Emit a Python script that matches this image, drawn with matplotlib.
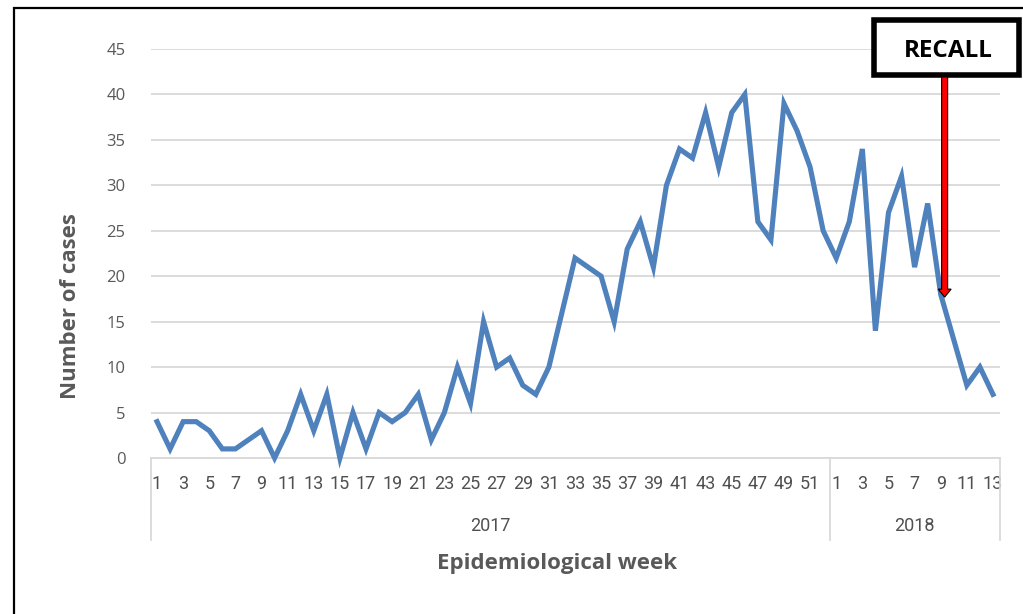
import numpy as np
import matplotlib
matplotlib.use('Agg')
import matplotlib.pyplot as plt
from matplotlib.patches import Rectangle, FancyArrow
from matplotlib.transforms import blended_transform_factory

# weekly cases, 2017 weeks 1-52 then 2018 weeks 1-13
cases_2017 = [4, 1, 4, 4, 3, 1, 1, 2, 3, 0, 3, 7, 3, 7, 0, 5, 1, 5, 4, 5,
              7, 2, 5, 10, 6, 15, 10, 11, 8, 7, 10, 16, 22, 21, 20, 15, 23, 26, 21, 30,
              34, 33, 38, 32, 38, 40, 26, 24, 39, 36, 32, 25]
cases_2018 = [22, 26, 34, 14, 27, 31, 21, 28, 18, 13, 8, 10, 7]
weeks_2017 = list(range(1, 53))
weeks_2018 = list(range(1, 14))
years = ['2017', '2018']
recall_label = 'RECALL'
recall_week_2018 = 9

cases = cases_2017 + cases_2018
weeks = weeks_2017 + weeks_2018
idx = np.arange(len(cases))

gray = '#595959'
grid = '#d9d9d9'
W, H = 1023, 614

fig = plt.figure(figsize=(W / 100, H / 100), dpi=100)
ax = fig.add_axes([150.5 / W, 1 - 458 / H, 849 / W, 409 / H])

ax.plot(idx, cases, color='#4f81bd', lw=3.7, solid_joinstyle='miter', zorder=3, clip_on=False)

ax.set_xlim(-0.5, len(cases) - 0.5)
ax.set_ylim(0, 45)
ax.set_yticks(range(0, 46, 5))
ax.yaxis.grid(True, color=grid, lw=1.3)
ax.set_axisbelow(True)
for s in ['top', 'right', 'left']:
    ax.spines[s].set_visible(False)
ax.spines['bottom'].set_color(grid)
ax.spines['bottom'].set_linewidth(1.3)
ax.tick_params(axis='y', length=0, pad=18, labelsize=12, labelcolor=gray)
ax.set_xticks(idx[::2])
ax.set_xticklabels([str(w) for w in weeks[::2]])
ax.tick_params(axis='x', length=0, pad=12, labelsize=13, labelcolor='#505050')
for lab in ax.get_yticklabels():
    lab.set_family(['Open Sans', 'DejaVu Sans'])
for lab in ax.get_xticklabels():
    lab.set_family(['Liberation Sans Narrow', 'Roboto', 'DejaVu Sans'])

# multi-level category axis (year groups)
trans = blended_transform_factory(ax.transData, ax.transAxes)
n17 = len(cases_2017)
bounds = [-0.5, n17 - 0.5, len(cases) - 0.5]
for b in bounds:
    ax.plot([b, b], [0, -82 / 409], color=grid, lw=1.3, transform=trans, clip_on=False)
for i, yr in enumerate(years):
    ax.text((bounds[i] + bounds[i + 1]) / 2, -68 / 409, yr, transform=trans,
            ha='center', va='center', fontsize=13, color='#505050',
            family=['Liberation Sans Narrow', 'Roboto', 'DejaVu Sans'])

ax.text(0.479, -106 / 409, 'Epidemiological week', transform=ax.transAxes,
        ha='center', va='center', fontsize=16, fontweight='bold', color=gray,
        family=['Open Sans', 'DejaVu Sans'])
fig.text(70 / W, 1 - 306 / H, 'Number of cases', rotation=90, ha='center', va='center',
         fontsize=16, fontweight='bold', color=gray, family=['Open Sans', 'DejaVu Sans'])

# outer frame
fig.patches.append(Rectangle((14 / W, -0.1), 1.2, 1 - 8 / H + 0.1, transform=fig.transFigure,
                             fill=False, ec='black', lw=1.6, zorder=0))

# RECALL box + arrow
fig.patches.append(Rectangle((874 / W, 1 - 75 / H), 145 / W, 55 / H, transform=fig.transFigure,
                             fc='white', ec='black', lw=4, zorder=5))
fig.text(948 / W, 1 - 51 / H, recall_label, ha='center', va='center', fontsize=17.5,
         fontweight='bold', color='black', family=['Open Sans', 'DejaVu Sans'], zorder=6)

tip_x = n17 + recall_week_2018 - 1 + 0.3
tip_px = ax.transData.transform((tip_x, 17.7))
start_px = np.array([tip_px[0], H - 77.0])
ax_arrow = FancyArrow(start_px[0], start_px[1], 0, tip_px[1] - start_px[1],
                      width=6, head_width=13, head_length=8, length_includes_head=True,
                      fc='#ff0000', ec='black', lw=0.8, transform=None, zorder=6)
fig.patches.append(ax_arrow)

fig.savefig('out.png', dpi=100)
